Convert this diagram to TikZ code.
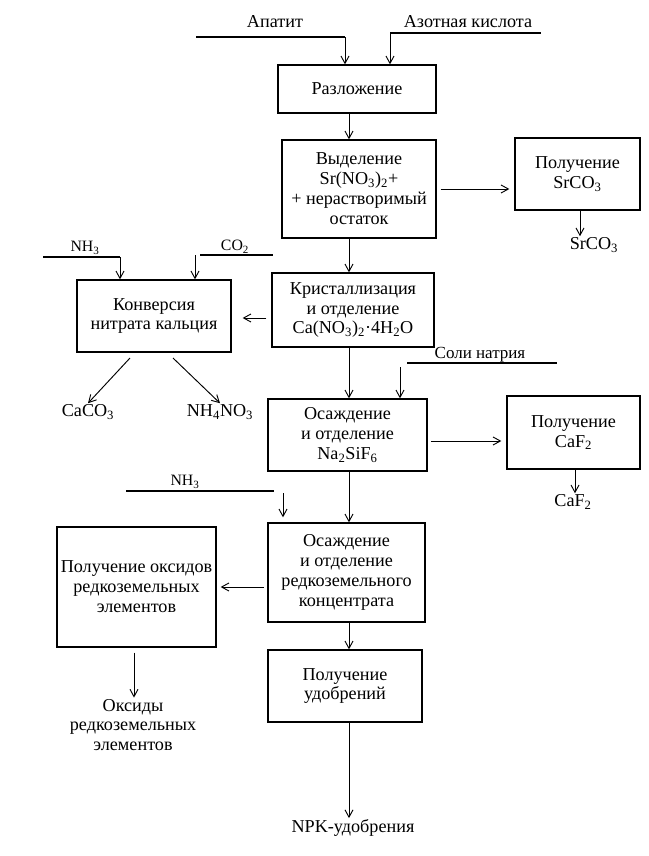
\documentclass[tikz,border=0pt]{standalone}
\usepackage{fontspec}
\setmainfont{Liberation Serif}
\usepackage{tikz}
\usetikzlibrary{arrows.meta, calc}

\begin{document}
\begin{tikzpicture}[
    x=0.03cm, y=-0.03cm,
    box/.style={draw, line width=1.1pt, rectangle, align=center, inner sep=2pt,
                font=\fontsize{15.5}{17}\selectfont},
    lbl/.style={align=center, inner sep=1pt, font=\fontsize{15.5}{17}\selectfont},
    gas/.style={inner sep=1pt, font=\fontsize{13.5}{15}\selectfont},
    feed/.style={line width=0.9pt},
    arr/.style={line width=0.8pt, -{Straight Barb[length=2.2mm, width=2.4mm]}}
]
    \useasboundingbox (0,0) rectangle (649,856);

    % --- Process boxes ---
    \node[box, minimum width=4.74cm, minimum height=1.44cm] (razl)  at (357, 89)   {Разложение};
    \node[box, minimum width=4.62cm, minimum height=2.94cm] (vydel) at (359,189)   {Выделение\\Sr(NO\textsubscript{3})\textsubscript{2}+\\+ нерастворимый\\остаток};
    \node[box, minimum width=3.75cm, minimum height=2.16cm] (srpol) at (577.5,174) {Получение\\SrCO\textsubscript{3}};
    \node[box, minimum width=4.86cm, minimum height=2.22cm] (krist) at (353,310)   {Кристаллизация\\и отделение\\Ca(NO\textsubscript{3})\textsubscript{2}·4H\textsubscript{2}O};
    \node[box, minimum width=4.62cm, minimum height=2.16cm] (konv)  at (154,316)   {Конверсия\\нитрата кальция};
    \node[box, minimum width=4.77cm, minimum height=2.16cm] (osNa)  at (347.5,435) {Осаждение\\и отделение\\Na\textsubscript{2}SiF\textsubscript{6}};
    \node[box, minimum width=3.99cm, minimum height=2.19cm] (caf)   at (573.5,432.5) {Получение\\CaF\textsubscript{2}};
    \node[box, minimum width=4.71cm, minimum height=2.97cm] (osRe)  at (346.5,572.5) {Осаждение\\и отделение\\редкоземельного\\концентрата};
    \node[box, minimum width=4.77cm, minimum height=3.6cm]  (oksid) at (136.5,587) {Получение оксидов\\редкоземельных\\элементов};
    \node[box, minimum width=4.62cm, minimum height=2.16cm] (udobr) at (345,686)   {Получение\\удобрений};

    % --- Feeds and products ---
    \node[lbl] (ap)   at (275,22)  {Апатит};
    \node[lbl] (az)   at (468,22)  {Азотная кислота};
    \node[gas] (nh1)  at (85,248)  {NH\textsubscript{3}};
    \node[gas] (co)   at (235,247) {CO\textsubscript{2}};
    \node[lbl, font=\fontsize{14.5}{16}\selectfont] (soli) at (480,355) {Соли натрия};
    \node[gas] (nh2)  at (185,482) {NH\textsubscript{3}};
    \node[lbl] (sr)   at (594,245) {SrCO\textsubscript{3}};
    \node[lbl] (caco) at (88,412)  {CaCO\textsubscript{3}};
    \node[lbl] (nhno) at (220,412) {NH\textsubscript{4}NO\textsubscript{3}};
    \node[lbl] (caf2) at (573,502) {CaF\textsubscript{2}};
    \node[lbl] (oxl)  at (133,725) {Оксиды\\редкоземельных\\элементов};
    \node[lbl] (npk)  at (353,828) {NPK-удобрения};

    \coordinate (apL)  at (196,37);  \coordinate (apR)  at (345,37);
    \coordinate (azL)  at (390,33);  \coordinate (azR)  at (541,33);
    \coordinate (nh1L) at (43,257);  \coordinate (nh1R) at (120,257);
    \coordinate (coL)  at (200,255); \coordinate (coR)  at (273,255);
    \coordinate (coA)  at (195,255);
    \coordinate (soL)  at (407,363); \coordinate (soR)  at (557,363);
    \coordinate (soA)  at (400,367);
    \coordinate (nh2L) at (126,491); \coordinate (nh2R) at (274,491);
    \coordinate (nh2A) at (283,493);
    \coordinate (ca1)  at (130,358); \coordinate (ca2)  at (173,358);
    \coordinate (col)  at (349,0);
    \coordinate (srA)  at (580,0);   \coordinate (cafA) at (575,0);
    \coordinate (oxA)  at (134,0);
    \coordinate (rowK) at (0,318);   \coordinate (rowN) at (0,441);
    \coordinate (rowR) at (0,587);

    % --- Main line ---
    \draw[feed] (apL) -- (apR);
    \draw[arr] (apR) -- (apR |- razl.north);
    \draw[feed] (azL) -- (azR);
    \draw[arr] (azL) -- (azL |- razl.north);
    \draw[arr] (razl.south -| col) -- (vydel.north -| col);
    \draw[arr] (vydel.south -| col) -- (krist.north -| col);
    \draw[arr] (krist.south -| col) -- (osNa.north -| col);
    \draw[arr] (osNa.south -| col) -- (osRe.north -| col);
    \draw[arr] (osRe.south -| col) -- (udobr.north -| col);
    \draw[arr] (udobr.south -| col) -- (npk.north -| col);

    % --- Side branches ---
    \draw[arr, shorten <=0.12cm, shorten >=0.15cm] (vydel.east) -- (vydel.east -| srpol.west);
    \draw[arr] (srpol.south -| srA) -- (sr.north -| srA);
    \draw[arr, shorten <=0.15cm, shorten >=0.33cm] (krist.west |- rowK) -- (konv.east |- rowK);
    \draw[feed] (nh1L) -- (nh1R);
    \draw[arr] (nh1R) -- (nh1R |- konv.north);
    \draw[feed] (coL) -- (coR);
    \draw[arr] (coA) -- (coA |- konv.north);
    \draw[arr] (ca1) -- (caco.north);
    \draw[arr] (ca2) -- (nhno.north);
    \draw[feed] (soL) -- (soR);
    \draw[arr] (soA) -- (soA |- osNa.north);
    \draw[arr, shorten <=0.1cm, shorten >=0.15cm] (osNa.east |- rowN) -- (caf.west |- rowN);
    \draw[arr] (caf.south -| cafA) -- (caf2.north -| cafA);
    \draw[feed] (nh2L) -- (nh2R);
    \draw[arr, shorten >=0.15cm] (nh2A) -- (nh2A |- osRe.north);
    \draw[arr, shorten <=0.1cm, shorten >=0.12cm] (osRe.west |- rowR) -- (oksid.east |- rowR);
    \draw[arr, shorten <=0.15cm] (oksid.south -| oxA) -- (oxl.north -| oxA);
\end{tikzpicture}
\end{document}
